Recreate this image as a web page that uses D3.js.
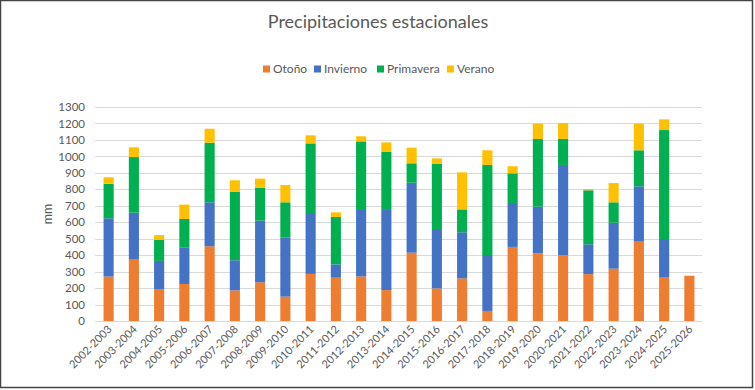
<!DOCTYPE html>
<html>
<head>
<meta charset="utf-8">
<script src="https://cdn.jsdelivr.net/npm/d3@7"></script>
<style>
  body { margin: 0; background: #fff; }
  #svg-container { width: 755px; height: 390px; }
  text { font-family: Lato, "Open Sans", sans-serif; fill: #595959; }
</style>
</head>
<body>
<div id="svg-container"></div>
<script>
var seasons = ["2002-2003", "2003-2004", "2004-2005", "2005-2006", "2006-2007", "2007-2008",
  "2008-2009", "2009-2010", "2010-2011", "2011-2012", "2012-2013", "2013-2014",
  "2014-2015", "2015-2016", "2016-2017", "2017-2018", "2018-2019", "2019-2020",
  "2020-2021", "2021-2022", "2022-2023", "2023-2024", "2024-2025", "2025-2026"];

var otono     = [270, 373, 194, 225, 454, 186, 235, 148, 286, 263, 271, 188, 415, 198, 259, 61, 450, 411, 399, 285, 318, 482, 267, 275];
var invierno  = [354, 285, 171, 223, 267, 183, 375, 360, 370, 81, 409, 492, 425, 361, 280, 340, 267, 284, 549, 181, 279, 336, 231, 0];
var primavera = [210, 338, 127, 172, 362, 415, 200, 213, 423, 288, 411, 347, 118, 395, 139, 547, 180, 411, 158, 328, 124, 219, 662, 0];
var verano    = [39, 59, 30, 87, 85, 71, 55, 105, 49, 28, 31, 58, 95, 34, 225, 89, 43, 93, 97, 8, 117, 162, 65, 0];

var seriesNames = ["Otoño", "Invierno", "Primavera", "Verano"];
var seriesColors = ["#ED7D31", "#4472C4", "#00B050", "#FFC000"];
var yTicks = d3.range(0, 1301, 100);

var width = 755, height = 390;
var margin = { top: 107, right: 53, bottom: 69, left: 96 };

var svg = d3.select("#svg-container")
            .append("svg")
            .attr("width", width)
            .attr("height", height);

// chart frame
svg.append("rect")
   .attr("x", 0.5).attr("y", 0.5)
   .attr("width", 752).attr("height", 387)
   .attr("fill", "#fff")
   .attr("stroke", "#444")
   .attr("stroke-width", 1.5);

var table = seasons.map(function(s, i) {
  return { season: s, "Otoño": otono[i], "Invierno": invierno[i], "Primavera": primavera[i], "Verano": verano[i] };
});

var stacked = d3.stack().keys(seriesNames)(table);

var scaleX = d3.scaleBand()
               .domain(seasons)
               .range([margin.left, width - margin.right])
               .paddingInner(0.6)
               .paddingOuter(0.3);

var scaleY = d3.scaleLinear()
               .domain([0, 1300])
               .range([height - margin.bottom, margin.top]);

// gridlines
svg.append("g")
   .selectAll("line")
   .data(yTicks)
   .enter().append("line")
   .attr("x1", margin.left - 1)
   .attr("x2", width - margin.right)
   .attr("y1", function(d) { return Math.round(scaleY(d)) + 0.5; })
   .attr("y2", function(d) { return Math.round(scaleY(d)) + 0.5; })
   .attr("stroke", "#d9d9d9")
   .attr("stroke-width", 1);

// y axis labels
svg.append("g")
   .attr("transform", "translate(" + (margin.left - 11) + ",0)")
   .call(d3.axisLeft(scaleY).tickValues(yTicks).tickFormat(d3.format("d")).tickSize(0).tickPadding(0))
   .call(function(g) { g.select(".domain").remove(); })
   .selectAll("text")
   .style("font-family", "Lato, sans-serif")
   .style("font-size", "11.5px")
   .attr("fill", "#595959");

// bars
svg.append("g")
   .selectAll("g")
   .data(stacked)
   .enter().append("g")
   .attr("fill", function(d, i) { return seriesColors[i]; })
   .selectAll("rect")
   .data(function(d) { return d; })
   .enter().append("rect")
   .attr("x", function(d) { return scaleX(d.data.season); })
   .attr("width", scaleX.bandwidth())
   .attr("y", function(d) { return scaleY(d[1]); })
   .attr("height", function(d) { return scaleY(d[0]) - scaleY(d[1]); });

// x axis
var xAxis = svg.append("g")
   .attr("transform", "translate(0," + (height - margin.bottom) + ")")
   .call(d3.axisBottom(scaleX).tickSize(0).tickPadding(0));
xAxis.select(".domain").attr("stroke", "#d9d9d9");
xAxis.selectAll("text")
   .style("font-family", "Lato, sans-serif")
   .style("font-size", "11px")
   .attr("fill", "#595959")
   .attr("text-anchor", "end")
   .attr("dy", 0)
   .attr("transform", "translate(4,9) rotate(-45)");

// y axis title
svg.append("text")
   .attr("transform", "translate(52," + ((margin.top + height - margin.bottom) / 2) + ") rotate(-90)")
   .attr("text-anchor", "middle")
   .style("font-size", "12.5px")
   .text("mm");

// title
svg.append("text")
   .attr("x", 378)
   .attr("y", 28)
   .attr("text-anchor", "middle")
   .style("font-size", "18px")
   .text("Precipitaciones estacionales");

// legend
var legendX = [263, 314, 377, 447];
var legend = svg.append("g")
   .selectAll("g")
   .data(seriesNames)
   .enter().append("g")
   .attr("transform", function(d, i) { return "translate(" + legendX[i] + ",69)"; });
legend.append("rect")
   .attr("x", 0).attr("y", -3.5)
   .attr("width", 7).attr("height", 7)
   .attr("fill", function(d, i) { return seriesColors[i]; });
legend.append("text")
   .attr("x", 10)
   .attr("dy", "0.35em")
   .style("font-size", "12px")
   .text(function(d) { return d; });
</script>
</body>
</html>
